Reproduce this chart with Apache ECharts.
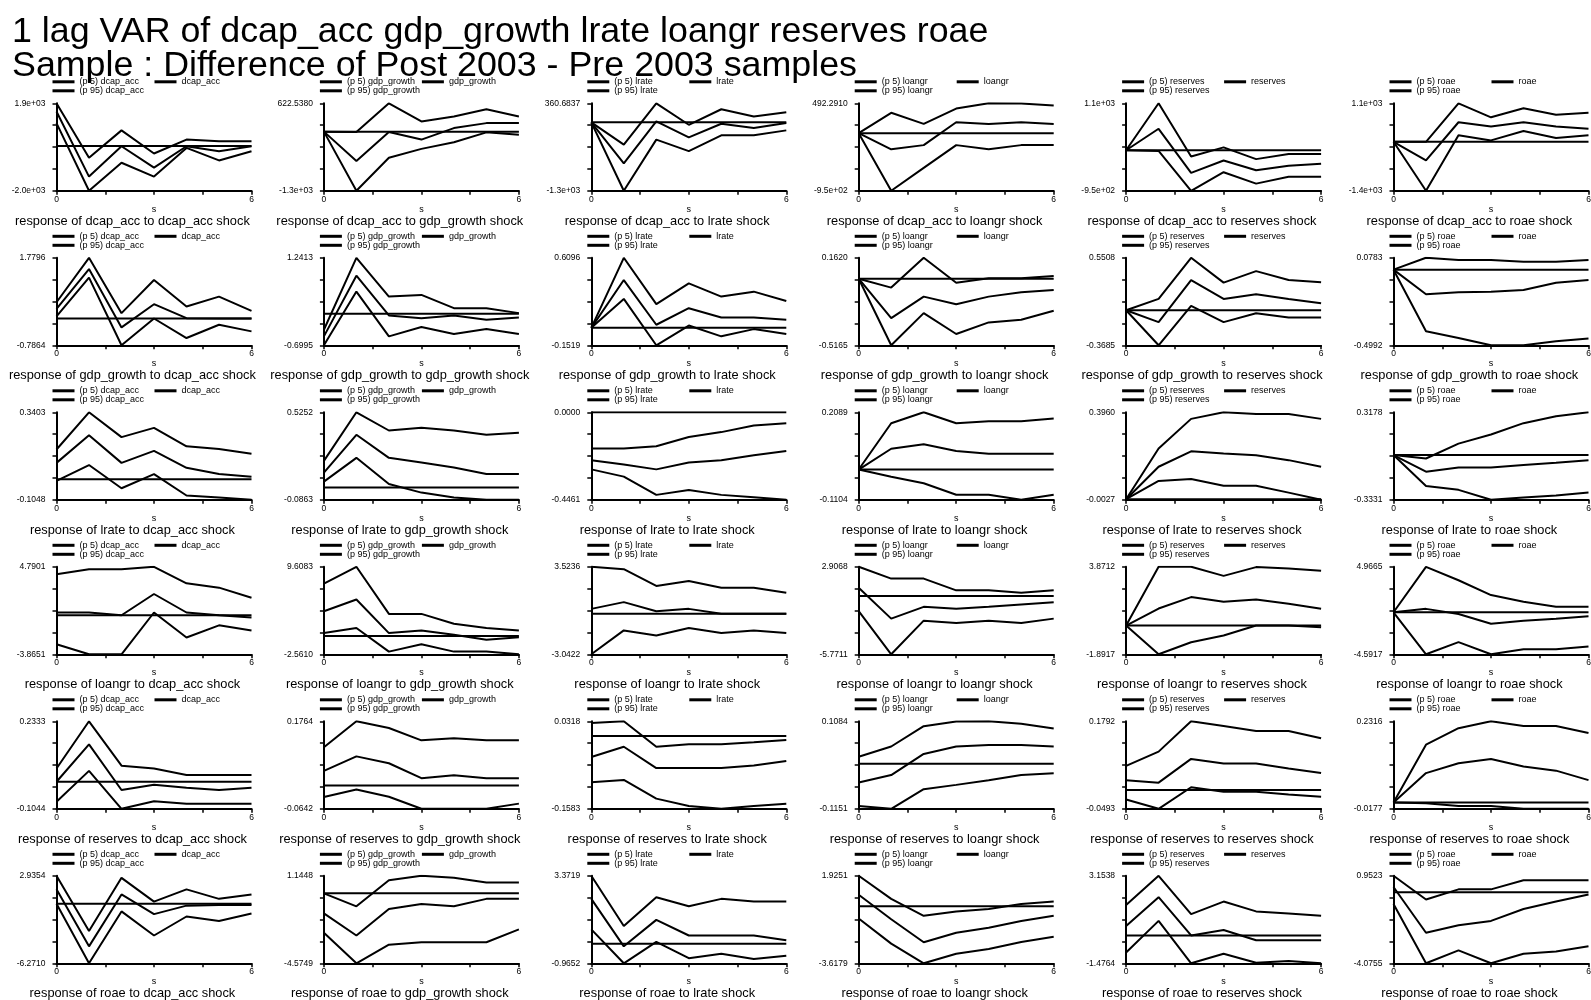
<!DOCTYPE html>
<html><head><meta charset="utf-8">
<script src="https://cdn.jsdelivr.net/npm/echarts@6/dist/echarts.min.js"></script>
<style>html,body{margin:0;padding:0;background:#fff}#chart{width:1591px;height:1000px}</style>
</head><body><div id="chart"></div>
<script>
// ---------------- data ----------------
const variables = ['dcap_acc', 'gdp_growth', 'lrate', 'loangr', 'reserves', 'roae'];
const steps = [0, 1, 2, 3, 4, 5, 6];
const xTickLabels = ['0', '6'];
const mainTitle = ['1 lag VAR of dcap_acc gdp_growth lrate loangr reserves roae',
                   'Sample : Difference of Post 2003 - Pre 2003 samples'];
// y-axis top / bottom tick labels, row = response variable, col = shock variable
const yMaxLabels = [
  ['1.9e+03', '622.5380', '360.6837', '492.2910', '1.1e+03', '1.1e+03'],
  ['1.7796', '1.2413', '0.6096', '0.1620', '0.5508', '0.0783'],
  ['0.3403', '0.5252', '0.0000', '0.2089', '0.3960', '0.3178'],
  ['4.7901', '9.6083', '3.5236', '2.9068', '3.8712', '4.9665'],
  ['0.2333', '0.1764', '0.0318', '0.1084', '0.1792', '0.2316'],
  ['2.9354', '1.1448', '3.3719', '1.9251', '3.1538', '0.9523']
];
const yMinLabels = [
  ['-2.0e+03', '-1.3e+03', '-1.3e+03', '-9.5e+02', '-9.5e+02', '-1.4e+03'],
  ['-0.7864', '-0.6995', '-0.1519', '-0.5165', '-0.3685', '-0.4992'],
  ['-0.1048', '-0.0863', '-0.4461', '-0.1104', '-0.0027', '-0.3331'],
  ['-3.8651', '-2.5610', '-3.0422', '-5.7711', '-1.8917', '-4.5917'],
  ['-0.1044', '-0.0642', '-0.1583', '-0.1151', '-0.0493', '-0.0177'],
  ['-6.2710', '-4.5749', '-0.9652', '-3.6179', '-1.4764', '-4.0755']
];
// upper band (p 95), panels in row-major order
const p95 = [
  [1900, -528, 693, -337, 281, 208, 208],
  [0, -10, 622.5, 224, 332, 492, 332],
  [0, -423, 360.7, -47, 248, 110, 192],
  [0, 336, 153, 406, 492.3, 490, 455],
  [0, 1100, -147, 67, -208, -86, -86],
  [0, 0, 1100, 699, 960, 773, 829],
  [0.477, 1.7796, 0.156, 1.128, 0.351, 0.642, 0.224],
  [-0.354, 1.2413, 0.381, 0.418, 0.124, 0.124, 0.014],
  [0, 0.6096, 0.206, 0.387, 0.272, 0.315, 0.234],
  [0, -0.069, 0.162, -0.031, 0.003, 0.003, 0.021],
  [0, 0.119, 0.5508, 0.290, 0.411, 0.317, 0.293],
  [0, 0.0783, 0.063, 0.063, 0.052, 0.052, 0.063],
  [0.151, 0.3403, 0.214, 0.261, 0.167, 0.154, 0.130],
  [0.186, 0.5252, 0.398, 0.417, 0.398, 0.368, 0.382],
  [-0.185, -0.185, -0.173, -0.126, -0.101, -0.067, -0.056],
  [0, 0.169, 0.2089, 0.169, 0.176, 0.176, 0.186],
  [0, 0.231, 0.366, 0.396, 0.388, 0.388, 0.366],
  [0, -0.026, 0.085, 0.153, 0.237, 0.288, 0.3178],
  [4.058, 4.557, 4.557, 4.7901, 3.159, 2.726, 1.728],
  [7.268, 9.6083, 3.056, 3.056, 1.698, 1.090, 0.762],
  [3.5236, 3.347, 2.084, 2.463, 1.958, 1.958, 1.579],
  [2.9068, 1.739, 1.739, 0.571, 0.571, 0.337, 0.571],
  [0, 3.8712, 3.8712, 3.273, 3.85, 3.760, 3.605],
  [0, 4.9665, 3.496, 1.878, 1.143, 0.591, 0.591],
  [0.051, 0.2333, 0.062, 0.051, 0.026, 0.026, 0.026],
  [0.105, 0.1764, 0.158, 0.124, 0.130, 0.124, 0.124],
  [0.028, 0.0318, -0.0235, -0.0183, -0.0183, -0.0139, -0.0087],
  [0.018, 0.044, 0.096, 0.108, 0.1084, 0.102, 0.090],
  [0.063, 0.100, 0.1792, 0.167, 0.154, 0.154, 0.135],
  [0, 0.165, 0.212, 0.2316, 0.218, 0.218, 0.198],
  [2.9354, -2.881, 2.721, 0.223, 1.508, 0.509, 0.973],
  [0, -0.850, 0.857, 1.1448, 1.012, 0.702, 0.702],
  [3.3719, 0.884, 2.313, 1.859, 2.229, 2.094, 2.094],
  [1.9251, 0.464, -0.610, -0.331, -0.181, 0.142, 0.292],
  [1.611, 3.1538, 1.126, 1.790, 1.270, 1.162, 1.036],
  [0.9523, -0.412, 0.173, 0.173, 0.699, 0.699, 0.699]
];
// impulse response
const irf = [
  [1532, -1367, -13, -970, -13, -234, -13],
  [0, -647, -10, -175, 78, 187, 187],
  [0, -780, 16, -285, -28, -109, -15],
  [0, -267, -197, 180, 153, 180, 153],
  [0, 503, -529, -239, -468, -361, -315],
  [0, -532, 559, 438, 559, 438, 372],
  [0.283, 1.449, -0.262, 0.419, 0.01, 0.0, 0.0],
  [-0.501, 0.844, -0.038, -0.097, -0.038, -0.133, -0.082],
  [0, 0.416, 0.027, 0.171, 0.090, 0.090, 0.070],
  [0, -0.306, -0.139, -0.198, -0.139, -0.105, -0.087],
  [0, -0.125, 0.317, 0.119, 0.168, 0.119, 0.074],
  [0, -0.162, -0.149, -0.145, -0.134, -0.086, -0.068],
  [0.083, 0.223, 0.083, 0.144, 0.058, 0.026, 0.013],
  [0.103, 0.368, 0.207, 0.175, 0.140, 0.094, 0.094],
  [-0.244, -0.266, -0.291, -0.256, -0.244, -0.219, -0.197],
  [0, 0.076, 0.092, 0.068, 0.058, 0.058, 0.058],
  [0, 0.148, 0.218, 0.208, 0.200, 0.178, 0.148],
  [0, -0.124, -0.092, -0.092, -0.075, -0.058, -0.038],
  [0.27, 0.27, 0.0, 2.1, 0.27, 0.0, -0.23],
  [3.430, 5.068, 0.388, 0.762, 0.154, -0.548, -0.174],
  [0.367, 0.872, 0.190, 0.367, 0.0, 0.0, 0.0],
  [0.838, -2.233, -1.065, -1.265, -1.065, -0.831, -0.598],
  [0, 1.123, 1.876, 1.566, 1.721, 1.433, 1.101],
  [0, 0.371, -0.181, -1.246, -0.915, -0.695, -0.438],
  [0.0, 0.144, -0.032, -0.012, -0.023, -0.032, -0.023],
  [0.040, 0.080, 0.061, 0.020, 0.028, 0.020, 0.020],
  [-0.0456, -0.0235, -0.0699, -0.0699, -0.0699, -0.064, -0.0544],
  [-0.048, -0.029, 0.025, 0.044, 0.048, 0.048, 0.044],
  [0.025, 0.019, 0.081, 0.069, 0.069, 0.056, 0.044],
  [0, 0.084, 0.112, 0.124, 0.103, 0.091, 0.064],
  [1.508, -4.487, 0.973, -1.097, -0.205, -0.13, -0.13],
  [-1.316, -2.757, -1.028, -0.695, -0.850, -0.363, -0.363],
  [2.229, -0.125, 1.186, 0.413, 0.413, 0.413, 0.178],
  [0.722, -0.825, -2.286, -1.684, -1.362, -0.932, -0.610],
  [0.498, 2.023, 0.0, 0.282, -0.256, -0.256, -0.256],
  [0.309, -2.322, -1.893, -1.639, -0.957, -0.529, -0.119]
];
// lower band (p 5)
const p5 = [
  [1017, -2000, -749, -1367, -87, -646, -234],
  [0, -1300, -575, -379, -234, -16, -67],
  [0, -1300, -329, -548, -247, -247, -153],
  [0, -950, -573, -197, -267, -197, -197],
  [0, -17, -950, -514, -782, -621, -621],
  [0, -1400, 186, 40, 307, 111, 186],
  [0.059, 1.197, -0.7864, 0.0, -0.573, -0.184, -0.378],
  [-0.6995, 0.492, -0.501, -0.295, -0.45, -0.339, -0.45],
  [0, 0.252, -0.1519, 0.02, -0.074, -0.011, -0.054],
  [0, -0.5165, -0.267, -0.429, -0.339, -0.319, -0.249],
  [0, -0.3685, 0.046, -0.125, -0.031, -0.076, -0.076],
  [0, -0.407, -0.451, -0.4992, -0.499, -0.473, -0.455],
  [-0.009, 0.072, -0.046, 0.026, -0.083, -0.093, -0.1048],
  [0.041, 0.207, 0.024, -0.036, -0.070, -0.0863, -0.0863],
  [-0.291, -0.328, -0.421, -0.396, -0.421, -0.433, -0.4461],
  [0, -0.026, -0.050, -0.092, -0.092, -0.1104, -0.092],
  [0, 0.083, 0.092, 0.061, 0.061, 0.030, -0.0027],
  [0, -0.230, -0.259, -0.3331, -0.316, -0.301, -0.279],
  [-2.866, -3.8651, -3.8651, 0.27, -2.201, -1.002, -1.501],
  [0.388, 1.090, -2.187, -1.157, -2.187, -2.187, -2.561],
  [-3.0422, -1.249, -1.628, -1.072, -1.451, -1.249, -1.451],
  [-1.499, -5.7711, -2.433, -2.667, -2.433, -2.667, -2.233],
  [0, -1.8917, -1.094, -0.650, 0.0, 0.0, -0.11],
  [0, -4.5917, -3.268, -4.5917, -4.040, -4.040, -3.746],
  [-0.077, 0.042, -0.1044, -0.075, -0.085, -0.085, -0.085],
  [-0.032, -0.011, -0.031, -0.0642, -0.0642, -0.0642, -0.050],
  [-0.1008, -0.0957, -0.1362, -0.1524, -0.1583, -0.1524, -0.1473],
  [-0.108, -0.1151, -0.065, -0.054, -0.042, -0.029, -0.024],
  [-0.025, -0.0493, 0.007, -0.005, -0.005, -0.012, -0.018],
  [0, -0.002, -0.010, -0.010, -0.0177, -0.0177, -0.0177],
  [0.0, -6.271, -0.811, -3.345, -1.347, -1.811, -1.025],
  [-2.580, -4.5749, -3.356, -3.200, -3.200, -3.200, -2.358],
  [0.716, -0.9652, 0.094, -0.713, -0.494, -0.747, -0.595],
  [-0.782, -2.372, -3.6179, -3.017, -2.716, -2.264, -1.942],
  [-0.902, 0.767, -1.4764, -0.974, -1.45, -1.351, -1.4764],
  [-0.665, -4.0755, -3.335, -4.0755, -3.530, -3.393, -3.101]
];

// ---------------- layout ----------------
const FONT = 'Liberation Sans';
const PLOT_W = 195, PLOT_H = 87.5;
const colLeft = c => 56.5 + c * 267.4;
const rowTop = r => 103.3 + r * 154.5;
const panelCenter = c => 132.4 + c * 267.4;

const grid = [], xAxis = [], yAxis = [], series = [], legend = [];
const title = [{
  text: mainTitle.join('\n'), left: 12, top: 15.5, padding: 0,
  textStyle: { fontFamily: FONT, fontSize: 35.8, fontWeight: 'normal', color: '#000', lineHeight: 33.5 }
}];

const black = '#000';
for (let r = 0; r < 6; r++) {
  for (let c = 0; c < 6; c++) {
    const i = r * 6 + c;
    const L = colLeft(c), T = rowTop(r);
    const shock = variables[c];
    const nP5 = '(p 5) ' + shock, nIrf = shock, nP95 = '(p 95) ' + shock;
    const maxLab = yMaxLabels[r][c], minLab = yMinLabels[r][c];
    const yMax = Number(maxLab), yMin = Number(minLab);
    const interval = Number(((yMax - yMin) / 4).toPrecision(12));
    const eps = (yMax - yMin) * 1e-6;

    grid.push({ left: L, top: T, width: PLOT_W, height: PLOT_H, outerBoundsMode: 'none', containLabel: false });
    xAxis.push({
      type: 'value', gridIndex: i, min: 0, max: 6, interval: 1.5,
      name: 's', nameLocation: 'middle', nameGap: 12,
      nameTextStyle: { fontFamily: FONT, fontSize: 9, color: black },
      axisLine: { show: true, onZero: false, lineStyle: { color: black, width: 2 } },
      axisTick: { show: true, length: 4, lineStyle: { color: black, width: 1.5 } },
      axisLabel: {
        show: true, margin: 4, fontFamily: FONT, fontSize: 8.5, color: black,
        showMinLabel: true, showMaxLabel: true,
        formatter: v => v === 0 ? xTickLabels[0] : (v === 6 ? xTickLabels[1] : '')
      },
      splitLine: { show: false }
    });
    yAxis.push({
      type: 'value', gridIndex: i, min: yMin, max: yMax, interval: interval,
      axisLine: { show: true, onZero: false, lineStyle: { color: black, width: 2 } },
      axisTick: { show: true, length: 4, lineStyle: { color: black, width: 1.5 } },
      axisLabel: {
        show: true, margin: 11, fontFamily: FONT, fontSize: 8.5, color: black,
        showMinLabel: true, showMaxLabel: true,
        formatter: v => Math.abs(v - yMin) < eps ? minLab : (Math.abs(v - yMax) < eps ? maxLab : '')
      },
      splitLine: { show: false }
    });
    title.push({
      text: 'response of ' + variables[r] + ' to ' + shock + ' shock',
      left: panelCenter(c), top: T + PLOT_H + 23.3, textAlign: 'center', padding: 0,
      textStyle: { fontFamily: FONT, fontSize: 12.8, fontWeight: 'normal', color: black, lineHeight: 14 }
    });
    const lg = (name, left, top) => ({
      data: [name], left: left, top: top, padding: 0, icon: 'rect',
      itemWidth: 22, itemHeight: 3, selectedMode: false,
      textStyle: { fontFamily: FONT, fontSize: 9, color: black, lineHeight: 9 }
    });
    legend.push(lg(nP5, L - 4, T - 26));
    legend.push(lg(nIrf, L - 4 + 102, T - 26));
    legend.push(lg(nP95, L - 4, T - 17));

    const mk = (name, vals) => ({
      type: 'line', name: name, xAxisIndex: i, yAxisIndex: i,
      data: steps.map((s, k) => [s, vals[k]]),
      symbol: 'none', silent: true,
      lineStyle: { color: black, width: 2 }, itemStyle: { color: black }
    });
    series.push({
      type: 'line', name: 'zero', xAxisIndex: i, yAxisIndex: i,
      data: [[steps[0], 0], [steps[steps.length - 1], 0]],
      symbol: 'none', silent: true,
      lineStyle: { color: black, width: 2 }, itemStyle: { color: black }
    });
    series.push(mk(nP5, p5[i]));
    series.push(mk(nIrf, irf[i]));
    series.push(mk(nP95, p95[i]));
  }
}

const chart = echarts.init(document.getElementById('chart'), null, { renderer: 'canvas' });
chart.setOption({
  backgroundColor: '#fff',
  animation: false,
  textStyle: { fontFamily: FONT },
  title, grid, xAxis, yAxis, legend, series
});
</script>
</body></html>
